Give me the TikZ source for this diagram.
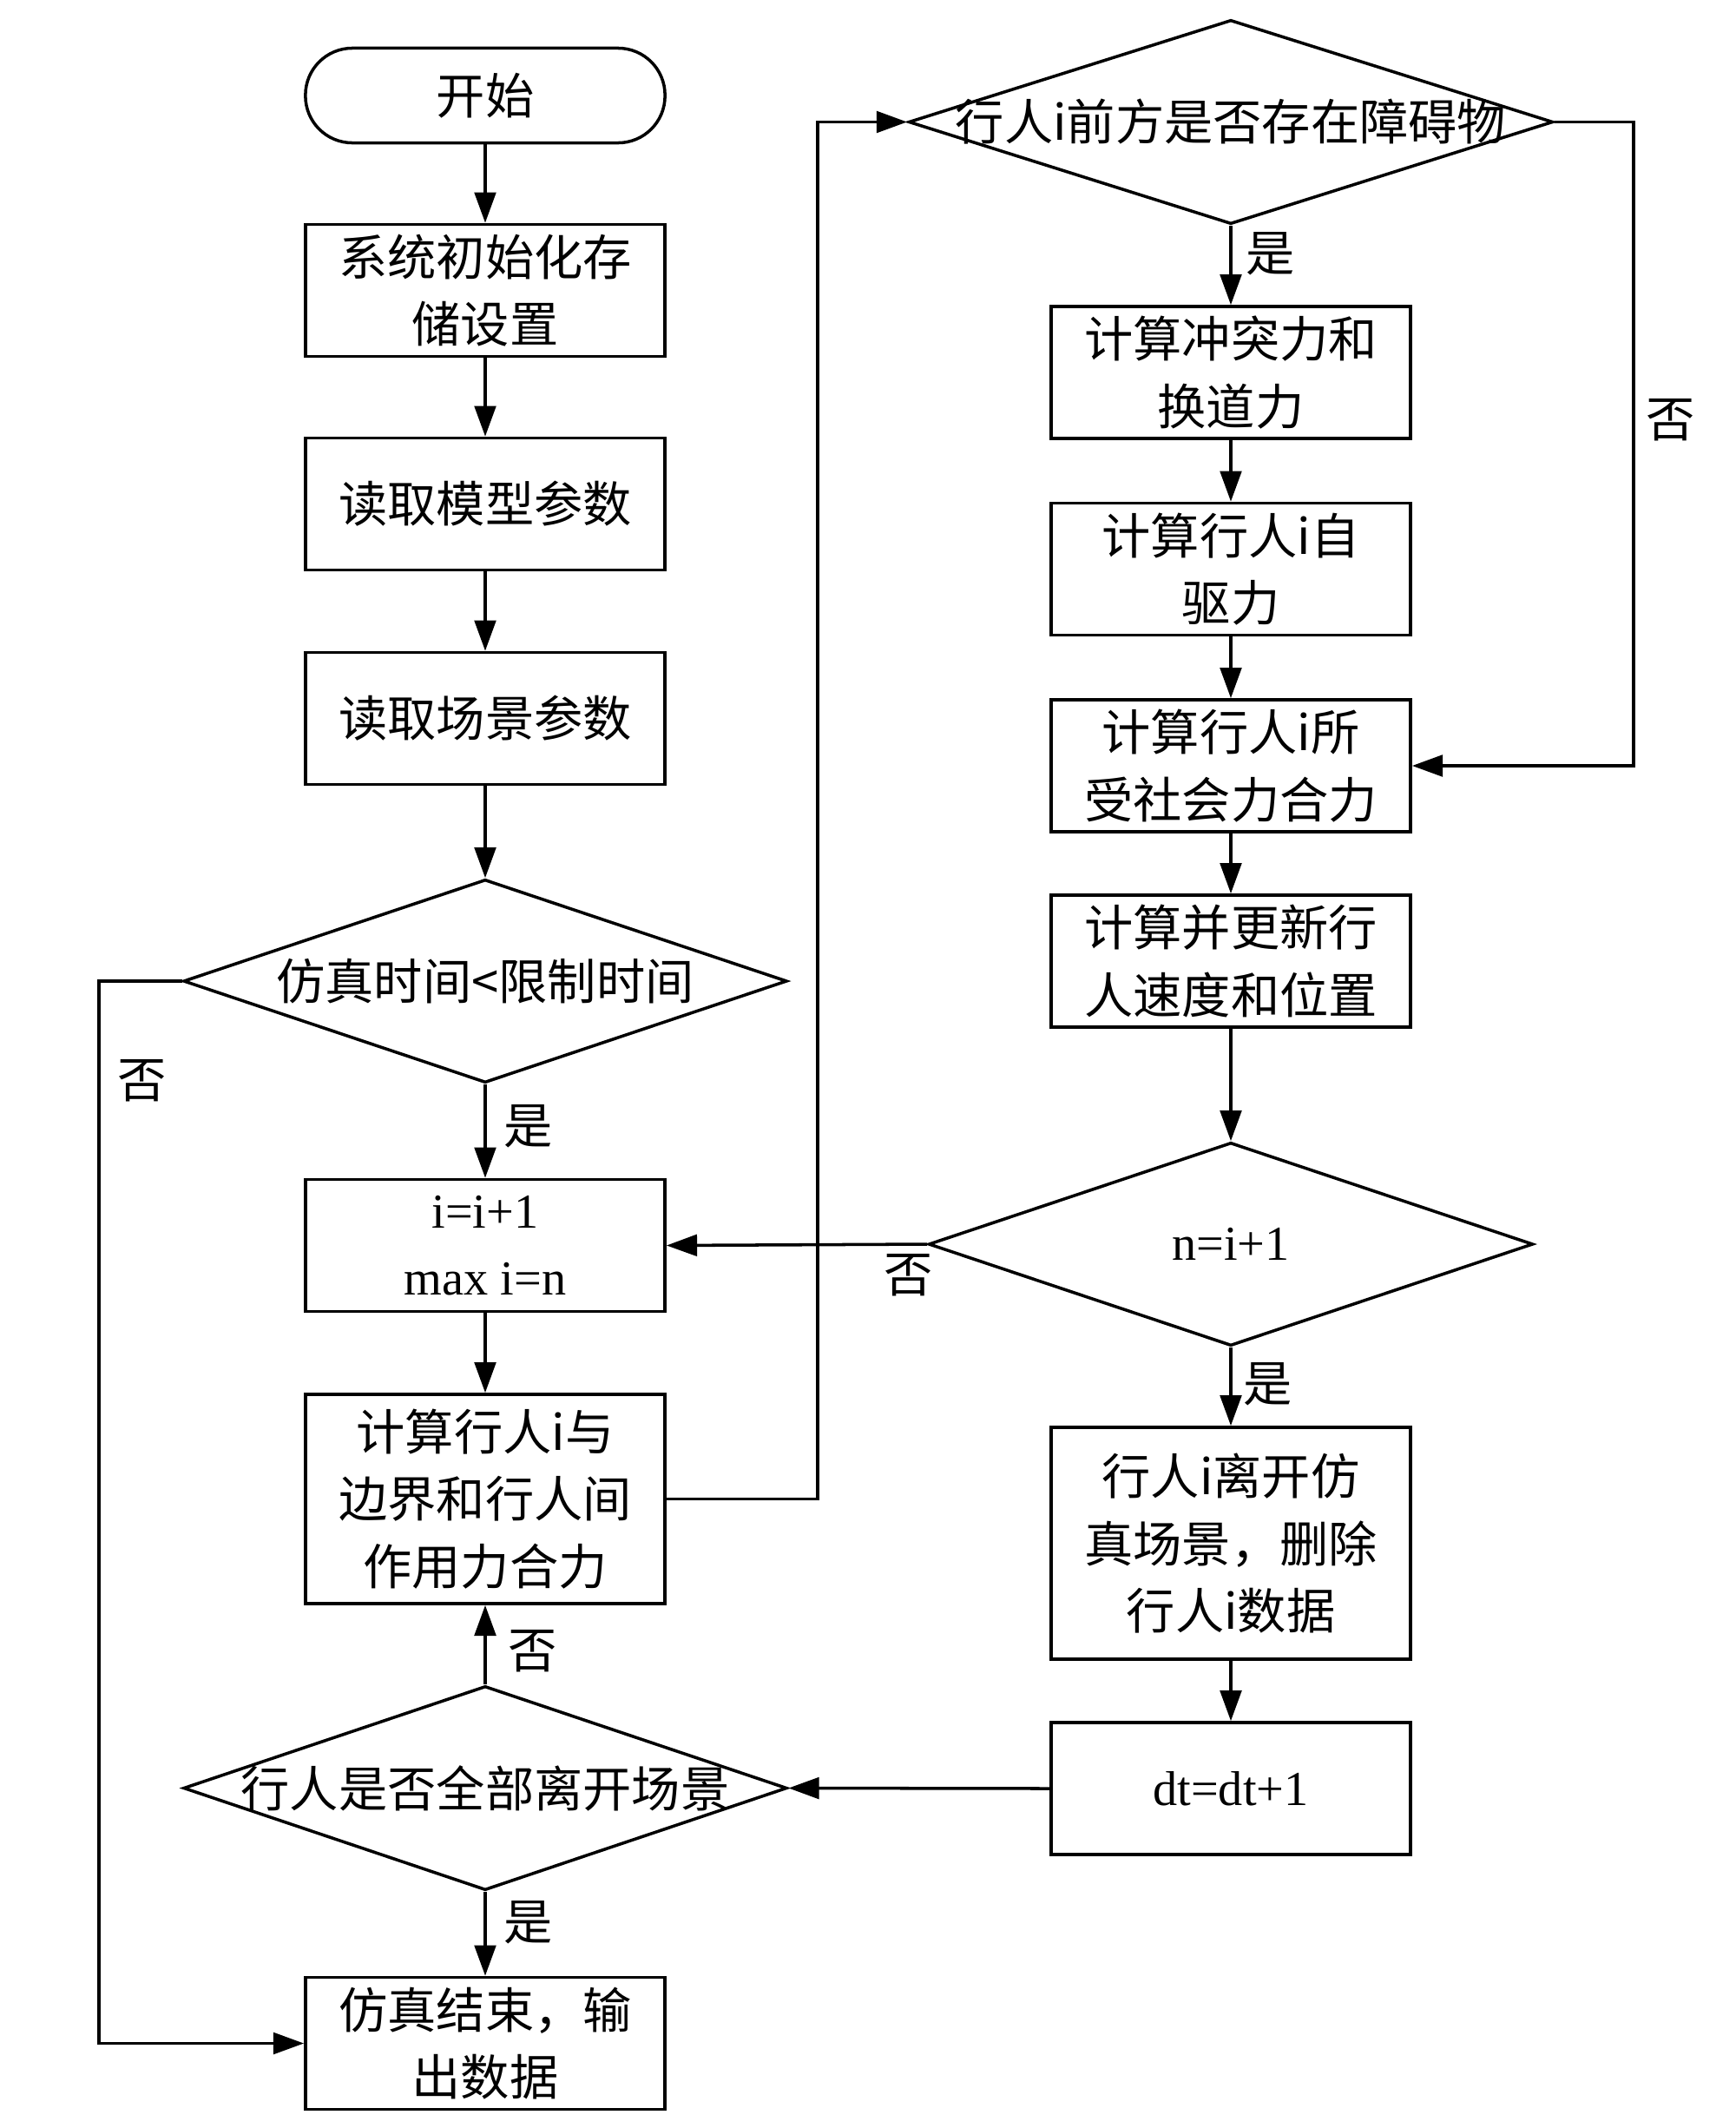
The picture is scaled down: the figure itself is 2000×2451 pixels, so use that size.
\documentclass[tikz,border=0pt]{standalone}
\usepackage{fontspec}
\setmainfont{Liberation Serif}
\newfontfamily\cjk{Noto Sans CJK SC}
\usetikzlibrary{arrows.meta,shapes.geometric}
\tikzset{
  base/.style={draw, line width=1pt, align=center, inner sep=0pt,
    font=\cjk\fontsize{16}{22}\selectfont},
  procbox/.style={base, minimum width=4.14cm, minimum height=1.52cm},
  termbox/.style={base, minimum width=4.14cm, minimum height=1.09cm, rounded corners=0.54cm},
  decision/.style={draw, line width=1pt, shape=diamond, inner sep=0pt},
  dtext/.style={font=\cjk\fontsize{16}{22}\selectfont, inner sep=0pt},
  lab/.style={font=\cjk\fontsize{16}{22}\selectfont, inner sep=0pt},
  flow/.style={line width=1pt, -{Triangle[length=10pt,width=7pt]}},
}
\begin{document}
\begin{tikzpicture}[x=0.01cm,y=-0.01cm]
\useasboundingbox (0,0) rectangle (2000,2451);
% left column
\node[termbox] (start) at (559,110) {开始};
\node[procbox] (b1) at (559,334.5) {系统初始化存\\储设置};
\node[procbox] (b2) at (559,580.5) {读取模型参数};
\node[procbox] (b3) at (559,827.5) {读取场景参数};
\node[decision, minimum width=6.95cm, minimum height=2.34cm] (d1) at (559,1130) {};
\node[dtext] (t1) at (d1.center) {仿真时间<限制时间};
\node[procbox, font=\rmfamily\fontsize{16}{22}\selectfont] (b4) at (559,1434.5) {i=i+1\\max i=n};
\node[procbox, minimum height=2.41cm] (b5) at (559,1726.5) {计算行人i与\\边界和行人间\\作用力合力};
\node[decision, minimum width=6.95cm, minimum height=2.35cm] (d2) at (559,2059.5) {};
\node[dtext] (t2) at (d2.center) {行人是否全部离开场景};
\node[procbox] (b6) at (559,2353.5) {仿真结束，输\\出数据};
% right column
\node[decision, minimum width=7.42cm, minimum height=2.35cm] (d3) at (1418,140.5) {};
\node[dtext] (t3) at (d3.center) {行人i前方是否存在障碍物};
\node[procbox] (b7) at (1418,429) {计算冲突力和\\换道力};
\node[procbox] (b8) at (1418,655.5) {计算行人i自\\驱力};
\node[procbox] (b9) at (1418,882) {计算行人i所\\受社会力合力};
\node[procbox] (b10) at (1418,1107) {计算并更新行\\人速度和位置};
\node[decision, minimum width=6.96cm, minimum height=2.34cm] (d4) at (1418,1433) {};
\node[dtext, font=\rmfamily\fontsize{16}{22}\selectfont] (t4) at (d4.center) {n=i+1};
\node[procbox, minimum height=2.67cm] (b11) at (1418,1777.5) {行人i离开仿\\真场景，删除\\行人i数据};
\node[procbox, font=\rmfamily\fontsize{16}{22}\selectfont] (b12) at (1418,2060) {dt=dt+1};
% corner coordinates
\coordinate (c1) at (114,1130);
\coordinate (c2) at (942,1726.5);
\coordinate (c3) at (1882,140.5);
% connectors
\draw[flow] (start) -- (b1);
\draw[flow] (b1) -- (b2);
\draw[flow] (b2) -- (b3);
\draw[flow] (b3) -- (d1);
\draw[flow] (d1.south) -- (b4);
\draw[flow] (b4) -- (b5);
\draw[flow] (d2.north) -- (b5.south);
\draw[flow] (d2.south) -- (b6);
\draw[flow] (d1.west) -- (c1) |- (b6.west);
\draw[flow] (b5.east) -- (c2) |- (d3.west);
\draw[flow] (d3.south) -- (b7);
\draw[flow] (b7) -- (b8);
\draw[flow] (b8) -- (b9);
\draw[flow] (b9) -- (b10);
\draw[flow] (b10) -- (d4);
\draw[flow] (d4.west) -- (b4.east);
\draw[flow] (d4.south) -- (b11);
\draw[flow] (b11) -- (b12);
\draw[flow] (b12.west) -- (d2.east);
\draw[flow] (d3.east) -- (c3) |- (b9.east);
% branch labels
\node[lab] (l1) at (609,1297) {是};
\node[lab] (l2) at (164,1245) {否};
\node[lab] (l3) at (614,1902) {否};
\node[lab] (l4) at (609,2214) {是};
\node[lab] (l5) at (1464,292) {是};
\node[lab] (l6) at (1925,484) {否};
\node[lab] (l7) at (1047,1469) {否};
\node[lab] (l8) at (1461,1594) {是};
\end{tikzpicture}
\end{document}
